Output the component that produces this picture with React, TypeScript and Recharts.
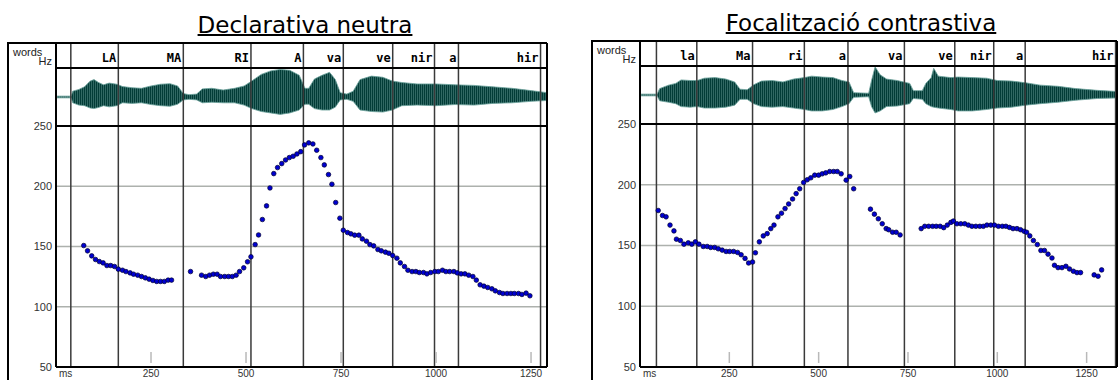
import React from 'react'
import { ComposedChart, Area, Scatter, XAxis, YAxis, ReferenceLine } from 'recharts'

// F0 contour points: [ms, Hz]
const leftPitch: [number, number][] = [
  [73, 150.8], [83, 146.4], [94, 142.2], [104, 139.2], [114, 137.5], [124, 136.4], [134, 134.2], [144, 134.2],
  [154, 133.4], [164, 131.2], [175, 130.3], [184, 129.2], [195, 128.1], [204, 127], [215, 126.2], [225, 125.1],
  [235, 124], [245, 122.9], [255, 121.8], [265, 121], [275, 121], [285, 121], [295, 122.1], [304, 122.1],
  [354, 129.2],
  [383, 126.2], [394, 125.1], [404, 126.2], [414, 127], [424, 127], [433, 125.1], [444, 125.1], [454, 125.1],
  [464, 125.1], [474, 126.2], [483, 129.2], [494, 132.3], [504, 137.3], [513, 141.4], [524, 151.6], [533, 159.6],
  [543, 172.4], [554, 183.7], [563, 198.6], [573, 210.5], [583, 215.5], [594, 218.8], [604, 221.8], [614, 223.8],
  [624, 224.9], [634, 226.8], [644, 228.7], [654, 234.3], [665, 236], [676, 235.1], [686, 229.9], [697, 223.8],
  [706, 217.7], [717, 209.7], [726, 201.7], [736, 186.5], [747, 173.5], [756, 163.5], [767, 161.6], [776, 160.5],
  [786, 159.4], [797, 159.4], [806, 156.3], [817, 154.4], [826, 151.6], [836, 150.5], [847, 147.5], [856, 146.4],
  [867, 145.3], [876, 144.4], [886, 142.5], [897, 140.3], [906, 136.4], [917, 133.4], [926, 130.3], [937, 129.2],
  [947, 129.2], [956, 128.4], [967, 128.4], [976, 127.3], [986, 128.4], [997, 129.2], [1006, 129.2], [1017, 130.3],
  [1026, 129.2], [1036, 129.2], [1047, 129.2], [1056, 128.1], [1066, 127.3], [1076, 127.3], [1086, 126.2], [1097, 125.1],
  [1106, 122.1], [1116, 118.2], [1126, 117.1], [1136, 116], [1147, 114.9], [1156, 113.2], [1167, 111.8], [1176, 111],
  [1187, 111], [1197, 111], [1206, 111], [1217, 111], [1226, 110.2], [1237, 111.3], [1247, 109.1],
]

const rightPitch: [number, number][] = [
  [51, 178.8], [63, 174.7], [73, 173.6], [84, 166.8], [95, 162], [102, 155.2], [113, 154.1], [123, 151.1],
  [135, 152.2], [145, 151.1], [155, 153], [165, 151.1], [177, 149.2], [188, 149.2], [198, 148.4], [209, 148.4],
  [219, 147.3], [230, 146.2], [241, 145.1], [251, 145.1], [262, 145.1], [273, 144.3], [283, 142.4], [294, 139.4],
  [304, 135.6], [315, 136.4], [323, 144], [334, 153], [345, 157.9], [356, 159.8], [366, 163.9], [375, 166.8],
  [386, 173.6], [396, 176.6], [406, 180.4], [416, 184.2], [427, 188.3], [437, 192.7], [447, 196.7], [458, 201.9],
  [468, 204.1], [478, 205.7], [489, 207.9], [500, 207.9], [510, 209], [520, 209.8], [531, 210.9], [542, 210.9],
  [552, 210.9], [563, 209], [577, 203.8], [587, 206.8], [598, 196.7],
  [645, 179.9], [656, 175.8], [667, 172], [678, 167.9], [689, 163.9], [696, 163], [707, 160.9], [717, 160.9], [728, 158.7],
  [787, 163.9], [797, 165.8], [808, 165.8], [819, 165.8], [829, 165.8], [840, 165.8], [850, 164.7], [860, 166.8],
  [870, 169], [877, 170.1], [887, 167.9], [898, 167.9], [909, 167.9], [919, 166.8], [929, 165.8], [940, 165.8],
  [951, 165.8], [961, 165.8], [971, 166.8], [982, 166.8], [992, 166.8], [1003, 165.8], [1014, 165.8], [1024, 165.8],
  [1034, 164.9], [1044, 163.9], [1055, 163.9], [1065, 163], [1075, 161.7], [1082, 160.9], [1091, 157.9], [1101, 154.1],
  [1112, 150.8], [1122, 145.9], [1132, 145.9], [1142, 142.9], [1153, 139.7], [1160, 133.7], [1170, 131.8], [1181, 131.8],
  [1192, 132.9], [1202, 130.7], [1213, 128.8], [1223, 127.7], [1233, 127.7],
  [1271, 125.8], [1282, 124.7], [1292, 129.9],
]

// waveform envelope: [ms, low, high], relative amplitude (-1..1)
const leftWave: [number, number, number][] = [
  [0, -0.03, 0.03], [40, -0.03, 0.03], [44, -0.2, 0.2], [60, -0.28, 0.26], [75, -0.3, 0.35], [90, -0.38, 0.55],
  [100, -0.4, 0.6], [112, -0.36, 0.5], [125, -0.3, 0.42], [140, -0.34, 0.48], [160, -0.3, 0.44], [175, -0.2, 0.36],
  [200, -0.22, 0.32], [225, -0.2, 0.3], [250, -0.26, 0.38], [275, -0.3, 0.44], [300, -0.32, 0.46], [320, -0.25, 0.38],
  [335, -0.1, 0.12], [350, -0.08, 0.08], [370, -0.1, 0.1], [385, -0.2, 0.28], [410, -0.18, 0.3], [440, -0.2, 0.24],
  [470, -0.2, 0.3], [495, -0.28, 0.38], [515, -0.4, 0.55], [540, -0.5, 0.78], [565, -0.55, 0.9], [590, -0.6, 0.95],
  [615, -0.55, 0.92], [640, -0.45, 0.75], [655, -0.25, 0.3], [665, -0.25, 0.3], [680, -0.4, 0.62], [700, -0.45, 0.75],
  [720, -0.45, 0.85], [735, -0.35, 0.6], [748, -0.1, 0.15], [765, -0.08, 0.1], [782, -0.15, 0.2], [800, -0.45, 0.6],
  [830, -0.5, 0.72], [860, -0.52, 0.68], [885, -0.45, 0.55], [910, -0.3, 0.5], [950, -0.28, 0.45], [1000, -0.3, 0.45],
  [1050, -0.26, 0.42], [1100, -0.28, 0.4], [1150, -0.22, 0.35], [1200, -0.2, 0.3], [1250, -0.15, 0.22], [1292, -0.12, 0.15],
]

const rightWave: [number, number, number][] = [
  [0, -0.03, 0.03], [48, -0.03, 0.03], [55, -0.2, 0.22], [80, -0.25, 0.34], [100, -0.3, 0.4], [115, -0.4, 0.52],
  [140, -0.42, 0.5], [160, -0.4, 0.5], [180, -0.45, 0.58], [210, -0.45, 0.6], [240, -0.42, 0.55], [265, -0.35, 0.45],
  [280, -0.15, 0.2], [300, -0.15, 0.18], [318, -0.3, 0.35], [340, -0.4, 0.48], [370, -0.42, 0.5], [400, -0.4, 0.45],
  [430, -0.45, 0.55], [460, -0.5, 0.6], [480, -0.55, 0.65], [510, -0.55, 0.62], [540, -0.5, 0.6], [565, -0.4, 0.5],
  [585, -0.3, 0.45], [598, -0.08, 0.08], [640, -0.06, 0.06], [648, -0.4, 0.5], [658, -0.62, 0.97], [672, -0.55, 0.7],
  [690, -0.4, 0.55], [720, -0.38, 0.5], [755, -0.3, 0.4], [765, -0.12, 0.15], [790, -0.15, 0.15], [800, -0.3, 0.4],
  [815, -0.4, 0.6], [822, -0.42, 0.92], [835, -0.45, 0.65], [870, -0.5, 0.6], [890, -0.55, 0.62], [930, -0.55, 0.6],
  [970, -0.5, 0.58], [1000, -0.45, 0.5], [1040, -0.42, 0.48], [1080, -0.35, 0.42], [1120, -0.3, 0.34], [1170, -0.25, 0.3],
  [1220, -0.18, 0.22], [1280, -0.12, 0.16], [1336, -0.1, 0.12],
]

// word boundaries (ms) and the word that ends at each one
const leftBounds = [39, 164, 335, 513, 651, 756, 886, 996, 1059, 1275]
const leftWords = ['', 'LA', 'MA', 'RI', 'A', 'va', 've', 'nir', 'a', 'hir']
const rightBounds = [46, 159, 315, 460, 582, 740, 881, 990, 1078, 1331]
const rightWords = ['', 'la', 'Ma', 'ri', 'a', 'va', 've', 'nir', 'a', 'hir']

const hzTicks = [50, 100, 150, 200, 250]
const hzGrid = [100, 150, 200]
const msTicks = [250, 500, 750, 1000, 1250]

interface Layout {
  boxLeft: number
  plotLeft: number
  plotRight: number
  top: number
  waveTop: number
  hzTop: number
  bottom: number
  xMax: number
  titleCenter: number
}

const leftLayout: Layout = { boxLeft: 8, plotLeft: 56, plotRight: 547, top: 43, waveTop: 68, hzTop: 126, bottom: 367, xMax: 1292, titleCenter: 305 }
const rightLayout: Layout = { boxLeft: 592, plotLeft: 640, plotRight: 1117, top: 41, waveTop: 66, hzTop: 124, bottom: 367, xMax: 1335, titleCenter: 861 }

const H = 380
const LABEL_FONT = '"Liberation Sans", Arial, sans-serif'

const WordLabel = ({ viewBox, word, baseline }: any) => {
  if (!word || !viewBox) return null
  return (
    <text x={viewBox.x - 2} y={baseline} textAnchor="end" fontFamily="DejaVu Sans Mono" fontWeight="bold" fontSize={12} fill="#000">
      {word}
    </text>
  )
}

const MsTick = ({ x, y, payload }: any) => (
  <g>
    <line x1={x} x2={x} y1={y - 19} y2={y - 8} stroke="#b9b9b9" strokeWidth={1.5} />
    <text x={x} y={y + 6} textAnchor="middle" fontSize={10} fontFamily={LABEL_FONT} fill="#333">
      {payload.value}
    </text>
  </g>
)

const MsLabel = ({ viewBox }: any) =>
  viewBox ? (
    <text x={viewBox.x + 3} y={viewBox.y + 10} fontSize={10} fontFamily={LABEL_FONT} fill="#333">
      ms
    </text>
  ) : null

const Dot = (p: any) => <circle cx={p.cx} cy={p.cy} r={2.3} fill="#0000d0" stroke="#000030" strokeWidth={0.7} />

function Panel({ id, title, lay, pitch, wave, bounds, words }: {
  id: string
  title: string
  lay: Layout
  pitch: [number, number][]
  wave: [number, number, number][]
  bounds: number[]
  words: string[]
}) {
  const plotH = lay.bottom - lay.top
  const pxPerHz = (lay.bottom - lay.hzTop) / 200
  const hzMax = 250 + (lay.hzTop - lay.top) / pxPerHz
  const half = (lay.hzTop - lay.waveTop) / 2
  const c = (lay.waveTop + lay.hzTop) / 2 - lay.top
  const waveDomain = [-(plotH - c) / half, c / half]

  const waveData = wave.map(([ms, lo, hi]) => ({ ms, env: [lo, hi] }))
  const pitchData = pitch.map(([ms, hz]) => ({ ms, hz }))
  const width = lay.plotRight - lay.boxLeft + 2

  return (
    <>
      <div
        style={{
          position: 'absolute',
          left: lay.titleCenter - 200,
          width: 400,
          top: lay.top - 29,
          textAlign: 'center',
          fontFamily: '"DejaVu Sans", sans-serif',
          fontSize: 23,
          lineHeight: '23px',
          textDecoration: 'underline',
          textDecorationThickness: 2,
          whiteSpace: 'nowrap',
          color: '#000',
        }}
      >
        {title}
      </div>
      <div
        style={{
          position: 'absolute',
          left: lay.boxLeft - 1,
          top: lay.top - 1,
          width: lay.plotRight - lay.boxLeft,
          height: 400,
          borderLeft: '2px solid #000',
          borderTop: '2px solid #000',
          boxSizing: 'border-box',
        }}
      />
      <div style={{ position: 'absolute', left: lay.boxLeft + 5, top: lay.top + 3, fontFamily: LABEL_FONT, fontSize: 11, color: '#222' }}>
        words
      </div>
      <div
        style={{
          position: 'absolute',
          left: lay.boxLeft,
          width: lay.plotLeft - lay.boxLeft - 4,
          top: lay.waveTop - 13,
          textAlign: 'right',
          fontFamily: LABEL_FONT,
          fontSize: 11,
          color: '#222',
        }}
      >
        Hz
      </div>
      <div style={{ position: 'absolute', left: lay.boxLeft, top: 0 }}>
        <ComposedChart width={width} height={H} data={waveData} margin={{ top: lay.top, right: 2, bottom: 0, left: 0 }}>
          <defs>
            <pattern id={`stripes-${id}`} width="2" height="4" patternUnits="userSpaceOnUse">
              <rect width="2" height="4" fill="#5f958f" />
              <rect width="1.5" height="4" fill="#023c37" />
            </pattern>
          </defs>
          <XAxis
            type="number"
            dataKey="ms"
            domain={[0, lay.xMax]}
            allowDataOverflow
            ticks={msTicks}
            interval={0}
            height={H - lay.bottom}
            tickSize={0}
            tickMargin={4}
            tickLine={false}
            axisLine={{ stroke: '#000', strokeWidth: 2 }}
            tick={<MsTick />}
            label={<MsLabel />}
          />
          <YAxis
            yAxisId="hz"
            type="number"
            dataKey="hz"
            domain={[50, hzMax]}
            allowDataOverflow
            ticks={hzTicks}
            interval={0}
            width={lay.plotLeft - lay.boxLeft}
            tickSize={0}
            tickMargin={4}
            tickLine={false}
            axisLine={{ stroke: '#000', strokeWidth: 2 }}
            tick={{ fontSize: 11, fill: '#333', fontFamily: LABEL_FONT }}
          />
          <YAxis yAxisId="wave" type="number" hide domain={waveDomain} allowDataOverflow />

          {hzGrid.map((v) => (
            <ReferenceLine key={`g${v}`} yAxisId="hz" y={v} stroke="#adb1ad" strokeWidth={1.5} />
          ))}

          <Area
            yAxisId="wave"
            type="linear"
            dataKey="env"
            stroke="#6aa19b"
            strokeWidth={0.8}
            fill={`url(#stripes-${id})`}
            fillOpacity={1}
            isAnimationActive={false}
            dot={false}
            activeDot={false}
          />

          {bounds.map((b, i) => (
            <ReferenceLine
              key={`b${b}`}
              yAxisId="hz"
              x={b}
              stroke="#3a3a3a"
              strokeWidth={1.5}
              label={<WordLabel word={words[i]} baseline={lay.top + 19} />}
            />
          ))}
          <ReferenceLine yAxisId="wave" y={1} stroke="#000" strokeWidth={2} />
          <ReferenceLine yAxisId="hz" y={250} stroke="#000" strokeWidth={2} />
          <ReferenceLine yAxisId="hz" y={hzMax} stroke="#000" strokeWidth={2} />
          <ReferenceLine yAxisId="hz" x={lay.xMax} stroke="#000" strokeWidth={2} />

          <Scatter yAxisId="hz" data={pitchData} shape={Dot} isAnimationActive={false} />
        </ComposedChart>
      </div>
    </>
  )
}

export default function App() {
  return (
    <div style={{ position: 'fixed', left: 0, top: 0, width: 1119, height: H, background: '#fff', overflow: 'hidden' }}>
      <Panel id="l" title="Declarativa neutra" lay={leftLayout} pitch={leftPitch} wave={leftWave} bounds={leftBounds} words={leftWords} />
      <Panel id="r" title="Focalització contrastiva" lay={rightLayout} pitch={rightPitch} wave={rightWave} bounds={rightBounds} words={rightWords} />
    </div>
  )
}
